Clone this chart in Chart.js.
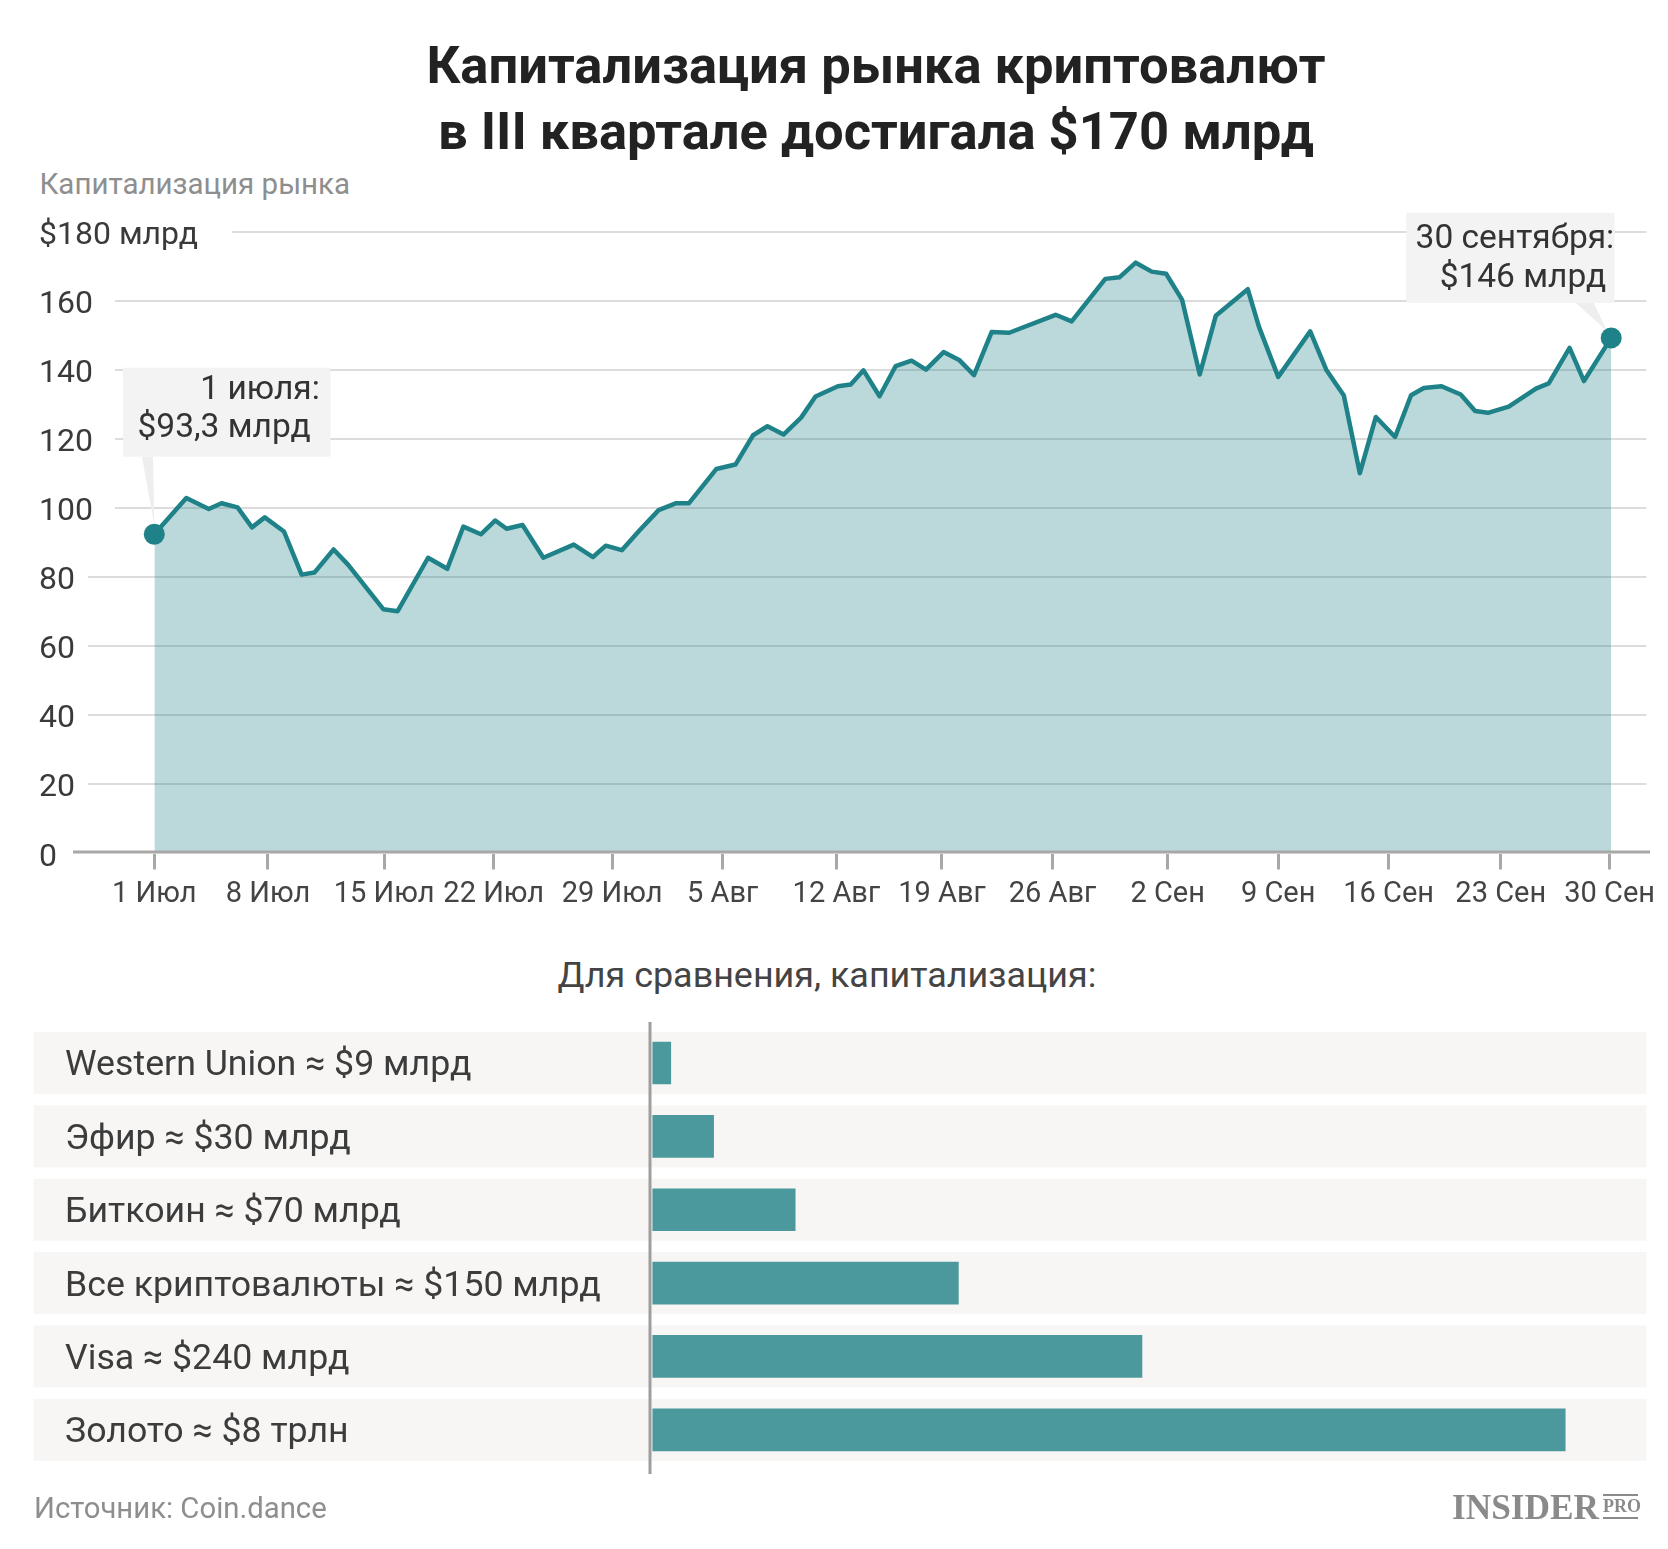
<!DOCTYPE html>
<html lang="ru">
<head>
<meta charset="utf-8">
<script src="https://cdn.jsdelivr.net/npm/chart.js@4.4.1/dist/chart.umd.min.js"></script>
<style>
  html, body { margin: 0; padding: 0; background: #fff; }
  body { width: 1668px; height: 1549px; position: relative; overflow: hidden; font-family: Roboto, sans-serif; }
  .txt { position: absolute; white-space: nowrap; line-height: 1; }
  #title { left: 76px; width: 1600px; top: 31.5px; text-align: center; font-weight: 700; font-size: 52.5px; line-height: 66.6px; color: #222; }
  #subtitle { left: 39.4px; top: 170px; font-size: 29.5px; color: #8e8e8e; }
  #barTitle { left: 27px; width: 1600px; top: 958px; text-align: center; font-size: 35.9px; color: #444; }
  #source { left: 34px; top: 1494.3px; font-size: 29.3px; color: #8e8e8e; }
  #logo { left: 1451.7px; top: 1489px; font-family: "Liberation Serif", serif; font-weight: 700; font-size: 36px; color: #8a8a8a; transform-origin: left top; }
  #logoPro { left: 1603px; top: 1494px; width: 35px; height: 21px; border-top: 2px solid #8a8a8a; border-bottom: 2px solid #8a8a8a;
             font-family: "Liberation Serif", serif; font-weight: 700; font-size: 18px; line-height: 21px; text-align: center; color: #8a8a8a; }
  #lineWrap { position: absolute; left: 0; top: 0; }
  #barWrap { position: absolute; left: 0; top: 1000px; }
</style>
</head>
<body>
<div id="title" class="txt">Капитализация рынка криптовалют<br>в III квартале достигала $170 млрд</div>
<div id="subtitle" class="txt">Капитализация рынка</div>
<div id="lineWrap"><canvas id="lineChart" width="1668" height="940"></canvas></div>
<div id="barTitle" class="txt">Для сравнения, капитализация:</div>
<div id="barWrap"><canvas id="barChart" width="1668" height="500"></canvas></div>
<div id="source" class="txt">Источник: Coin.dance</div>
<div id="logo" class="txt">INSIDER</div>
<div id="logoPro" class="txt">PRO</div>

<script>
const dayOffsets = [0, 2.0, 3.4, 4.2, 5.2, 6.1, 6.9, 8.1, 9.2, 10.0,
  11.2, 12.1, 14.3, 15.2, 17.1, 18.3, 19.3, 20.4, 21.3, 22.0,
  23.0, 24.3, 26.2, 27.4, 28.2, 29.2, 30.3, 31.5, 32.6, 33.4,
  35.1, 36.3, 37.4, 38.3, 39.3, 40.4, 41.3, 42.7, 43.5, 44.3,
  45.3, 46.3, 47.3, 48.2, 49.3, 50.3, 51.2, 52.3, 53.4, 56.3,
  57.3, 59.4, 60.3, 61.3, 62.3, 63.2, 64.2, 65.3, 66.3, 68.3,
  69.0, 70.2, 72.2, 73.2, 74.3, 75.3, 76.3, 77.5, 78.5, 79.3,
  80.4, 81.6, 82.5, 83.3, 84.6, 86.3, 87.1, 88.4, 89.3, 91.0];

// market cap, $ bn
const capValues = [92.5, 103.0, 99.8, 101.5, 100.3, 94.5, 97.4, 93.3, 80.8, 81.4,
  88.1, 83.7, 70.8, 70.2, 85.7, 82.5, 94.7, 92.5, 96.5, 94.1,
  95.2, 85.7, 89.5, 85.9, 89.2, 87.9, 93.6, 99.5, 101.5, 101.5,
  111.4, 112.7, 121.2, 123.8, 121.4, 126.3, 132.4, 135.4, 135.9, 140.0,
  132.5, 141.2, 142.8, 140.2, 145.3, 142.9, 138.6, 151.1, 150.9, 156.1,
  154.2, 166.5, 167.0, 171.2, 168.6, 168.0, 160.4, 138.8, 155.8, 163.5,
  152.6, 138.1, 151.3, 140.2, 132.7, 110.2, 126.5, 120.7, 132.8, 134.9,
  135.4, 133.0, 128.2, 127.7, 129.5, 134.7, 136.2, 146.5, 136.9, 149.4];

// weekly ticks, where they sit in the original
const tickDays = [0, 7.1, 14.35, 21.2, 28.6, 35.5, 42.6, 49.2, 56.1, 63.3, 70.2, 77.1, 84.1, 90.9];
const tickLabels = ['1 Июл', '8 Июл', '15 Июл', '22 Июл', '29 Июл', '5 Авг', '12 Авг',
  '19 Авг', '26 Авг', '2 Сен', '9 Сен', '16 Сен', '23 Сен', '30 Сен'];
const yTicks = [0, 20, 40, 60, 80, 100, 120, 140, 160, 180];

const calloutFirst = ['1 июля:', '$93,3 млрд'];
const calloutLast = ['30 сентября:', '$146 млрд'];

const compareLabels = ['Western Union ≈ $9 млрд', 'Эфир ≈ $30 млрд', 'Биткоин ≈ $70 млрд',
  'Все криптовалюты ≈ $150 млрд', 'Visa ≈ $240 млрд', 'Золото ≈ $8 трлн'];
// bar lengths as drawn; the gold bar is cut short in the original
const compareValues = [9, 30, 70, 150, 240, 447.5];

const TEAL = '#1e8288';
const BAR = '#4b999d';

Chart.defaults.font.family = 'Roboto';

const yLabel = v => v === 180 ? '$180 млрд' : String(v);

const gridPlugin = {
  id: 'customGrid',
  beforeDatasetsDraw(chart) {
    const { ctx } = chart;
    const y = chart.scales.y;
    ctx.save();
    ctx.font = '32px Roboto';
    y.ticks.forEach(t => {
      const label = yLabel(t.value);
      const w = ctx.measureText(label).width;
      const py = Math.round(y.getPixelForValue(t.value));
      ctx.fillStyle = '#3a3a3a';
      ctx.textAlign = 'left';
      ctx.textBaseline = 'middle';
      ctx.fillText(label, 39, py + 4);
      if (t.value === 0) return;
      const gap = t.value === 180 ? 34 : (w > 40 ? 22 : 13);
      ctx.strokeStyle = '#dcdcdc';
      ctx.lineWidth = 2;
      ctx.beginPath();
      ctx.moveTo(39 + w + gap, py);
      ctx.lineTo(1646.4, py);
      ctx.stroke();
    });

    // callout boxes
    const meta = chart.getDatasetMeta(0);
    const p0 = meta.data[0];
    const p1 = meta.data[meta.data.length - 1];
    ctx.fillStyle = '#f3f3f3';
    ctx.fillRect(p0.x - 31.3, p0.y - 166.6, 207.5, 89);
    ctx.fillRect(p1.x - 204.9, p1.y - 125, 208.2, 90);
    ctx.fillStyle = '#eeeeee';
    ctx.beginPath();
    ctx.moveTo(p0.x - 12.3, p0.y - 77.6);
    ctx.lineTo(p0.x - 1.3, p0.y - 77.6);
    ctx.lineTo(p0.x, p0.y - 9);
    ctx.closePath();
    ctx.fill();
    ctx.beginPath();
    ctx.moveTo(p1.x - 35.3, p1.y - 35);
    ctx.lineTo(p1.x - 17.3, p1.y - 35);
    ctx.lineTo(p1.x - 4.3, p1.y - 7);
    ctx.closePath();
    ctx.fill();

    ctx.font = '33.5px Roboto';
    ctx.fillStyle = '#333';
    ctx.textAlign = 'right';
    ctx.textBaseline = 'alphabetic';
    ctx.fillText(calloutFirst[0], p0.x + 165.5, p0.y - 135);
    ctx.fillText(calloutFirst[1], p0.x + 156.4, p0.y - 97.3);
    ctx.fillText(calloutLast[0], p1.x + 3, p1.y - 90);
    ctx.fillText(calloutLast[1], p1.x - 5, p1.y - 51);
    ctx.restore();
  },
  afterDatasetsDraw(chart) {
    const { ctx } = chart;
    const py = chart.scales.y.getPixelForValue(0) - 1.5;
    ctx.save();
    ctx.strokeStyle = '#a8a8a8';
    ctx.lineWidth = 3;
    ctx.beginPath();
    ctx.moveTo(73, py);
    ctx.lineTo(1650, py);
    ctx.stroke();
    ctx.restore();
  }
};

new Chart(document.getElementById('lineChart'), {
  type: 'line',
  data: {
    datasets: [{
      data: dayOffsets.map((d, i) => ({ x: d, y: capValues[i] })),
      borderColor: TEAL,
      borderWidth: 4.5,
      borderJoinStyle: 'round',
      borderCapStyle: 'round',
      backgroundColor: 'rgba(30,130,136,0.30)',
      fill: 'origin',
      tension: 0,
      pointRadius: c => (c.dataIndex === 0 || c.dataIndex === capValues.length - 1) ? 10.5 : 0,
      pointBackgroundColor: TEAL,
      pointBorderWidth: 0,
      clip: false
    }]
  },
  options: {
    responsive: false,
    animation: false,
    events: [],
    layout: { padding: { left: 39, right: 1668 - 1611.2, top: 232.3, bottom: 940 - 853.5 - 60 } },
    plugins: { legend: { display: false }, tooltip: { enabled: false } },
    scales: {
      x: {
        type: 'linear', min: 0, max: 91,
        afterBuildTicks: s => { s.ticks = tickDays.map(v => ({ value: v })); },
        afterFit: s => { s.height = 60; },
        grid: { drawOnChartArea: false, drawTicks: true, tickLength: 16, lineWidth: 3, color: '#a8a8a8' },
        border: { display: false },
        ticks: { callback: (v, i) => tickLabels[i], font: { size: 29 }, color: '#444', padding: 8, maxRotation: 0, autoSkip: false }
      },
      y: {
        min: 0, max: 180,
        afterBuildTicks: s => { s.ticks = yTicks.map(v => ({ value: v })); },
        afterFit: s => { s.width = 154.3 - 39; },
        grid: { display: false },
        border: { display: false },
        ticks: { display: false }
      }
    }
  },
  plugins: [gridPlugin]
});

const rowPlugin = {
  id: 'rows',
  beforeDraw(chart) {
    const { ctx } = chart;
    const y = chart.scales.y;
    ctx.save();
    ctx.fillStyle = '#f7f6f5';
    compareLabels.forEach((_, i) => {
      const cy = y.getPixelForValue(i);
      ctx.fillRect(33.7, cy - 31, 1646.4 - 33.7, 62);
    });
    ctx.restore();
  },
  afterDatasetsDraw(chart) {
    const { ctx, chartArea } = chart;
    ctx.save();
    ctx.strokeStyle = '#9e9e9e';
    ctx.lineWidth = 3;
    ctx.beginPath();
    ctx.moveTo(chartArea.left - 2.4, chartArea.top - 4.3);
    ctx.lineTo(chartArea.left - 2.4, chartArea.bottom + 7.5);
    ctx.stroke();
    ctx.restore();
  }
};

new Chart(document.getElementById('barChart'), {
  type: 'bar',
  data: {
    labels: compareLabels,
    datasets: [{ data: compareValues, backgroundColor: BAR, barThickness: 42, borderWidth: 0 }]
  },
  options: {
    indexAxis: 'y',
    responsive: false,
    animation: false,
    events: [],
    layout: { padding: { left: 65, right: 1668 - 1646.4, top: 26.3, bottom: 500 - 466.5 } },
    plugins: { legend: { display: false }, tooltip: { enabled: false } },
    scales: {
      x: { display: false, min: 0, max: 487.3 },
      y: {
        afterFit: s => { s.width = 652.4 - 65; },
        grid: { display: false },
        border: { display: false },
        ticks: { crossAlign: 'far', font: { size: 35.7 }, color: '#3c3c3c', padding: 0, labelOffset: 3.5 }
      }
    }
  },
  plugins: [rowPlugin]
});

// fit the logo word to its width in the original
const logo = document.getElementById('logo');
logo.style.transform = 'scaleX(' + (147 / logo.getBoundingClientRect().width) + ')';
</script>
</body>
</html>
